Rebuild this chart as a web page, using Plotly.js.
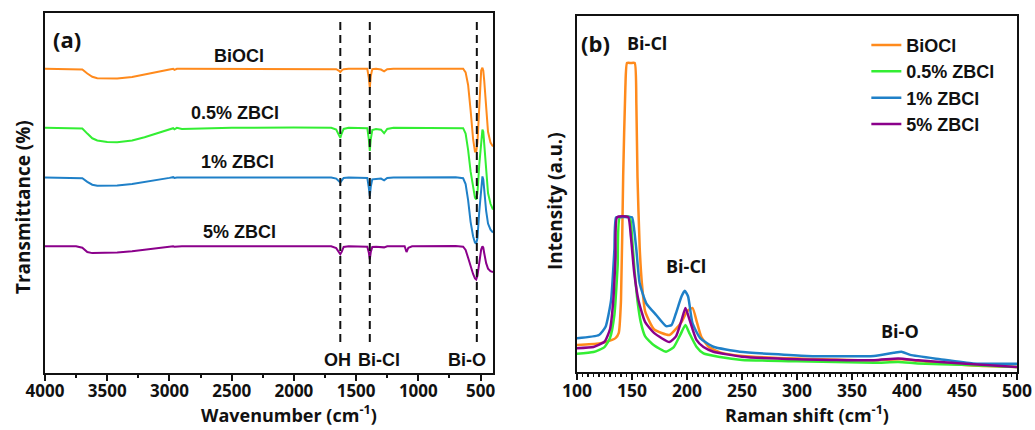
<!DOCTYPE html>
<html>
<head>
<meta charset="utf-8">
<script src="https://cdn.plot.ly/plotly-3.0.1.min.js"></script>
<style>html,body{margin:0;padding:0;background:#fff;}#chart{width:1035px;height:430px;}</style>
</head>
<body>
<div id="chart"></div>
<script>
// ---------- Panel (a): FTIR ----------
const wavenumber = [4000, 3750, 3700, 3660, 3620, 3580, 3500, 3420, 3300, 3200, 3100, 3000, 2970, 2960, 2940, 2900, 2500, 2000, 1700, 1660, 1640, 1627, 1615, 1600, 1560, 1410, 1398, 1390, 1382, 1370, 1340, 1300, 1275, 1250, 1200, 1110, 1095, 1080, 1050, 700, 640, 620, 600, 580, 560, 545, 535, 525, 510, 495, 485, 478, 470, 455, 440, 420, 400];
const ftirBiOCl = [84.5, 84.5, 84.3, 83.2, 82.3, 81.9, 81.8, 81.8, 82.2, 82.8, 83.6, 84.3, 84.5, 84.2, 84.5, 84.5, 84.5, 84.6, 84.5, 84.4, 84.0, 83.6, 84.1, 84.4, 84.5, 84.5, 82.0, 79.2, 82.5, 84.4, 84.5, 84.3, 83.8, 84.4, 84.5, 84.5, 84.5, 84.5, 84.5, 84.6, 84.5, 83.5, 80.0, 73.0, 65.0, 61.5, 61.5, 64.0, 76.0, 84.0, 84.8, 84.0, 81.0, 73.0, 67.0, 64.0, 62.9];
const ftirZB05 = [68.1, 68.1, 67.9, 66.5, 65.2, 64.6, 64.2, 64.1, 64.6, 65.5, 66.6, 67.6, 68.0, 67.7, 68.1, 67.8, 68.1, 68.2, 68.1, 67.6, 66.3, 65.3, 66.6, 67.8, 68.1, 68.0, 65.0, 61.7, 65.0, 67.5, 67.8, 67.6, 66.6, 67.8, 68.1, 68.1, 68.1, 68.1, 68.1, 68.2, 68.0, 66.5, 62.0, 56.0, 51.0, 48.7, 48.2, 50.0, 58.0, 65.5, 67.6, 67.0, 63.5, 56.0, 50.0, 47.0, 45.4];
const ftirZB1 = [54.3, 54.3, 54.1, 53.1, 52.3, 52.0, 52.0, 52.1, 52.5, 53.0, 53.6, 54.2, 54.4, 54.2, 54.3, 54.3, 54.3, 54.4, 54.3, 54.0, 53.3, 52.9, 53.5, 54.2, 54.3, 54.2, 51.5, 49.1, 51.8, 53.8, 53.9, 54.0, 53.5, 54.2, 54.3, 54.3, 54.3, 54.3, 54.3, 54.4, 54.1, 52.5, 48.0, 42.0, 38.0, 36.2, 36.0, 37.5, 45.0, 52.5, 54.6, 53.8, 50.5, 45.0, 41.5, 39.8, 39.0];
const ftirZB5 = [35.2, 35.2, 34.8, 33.6, 33.3, 33.3, 33.4, 33.5, 33.8, 34.2, 34.7, 35.2, 35.2, 35.1, 35.2, 35.2, 35.2, 35.3, 35.2, 34.7, 33.6, 33.0, 33.7, 35.0, 35.2, 35.1, 33.5, 31.6, 33.6, 35.0, 35.1, 35.1, 34.9, 35.2, 35.2, 35.2, 33.6, 34.8, 35.2, 35.3, 35.1, 34.2, 32.0, 29.5, 27.5, 26.3, 26.0, 27.0, 31.0, 34.3, 35.2, 34.8, 33.2, 30.5, 29.0, 28.3, 28.0];
const ftirMarkers = [1627, 1390, 530];
const ftirMarkerLabels = ["OH", "Bi-Cl", "Bi-O"];
const ftirTickVals = [4000, 3500, 3000, 2500, 2000, 1500, 1000, 500];

// ---------- Panel (b): Raman ----------
const ramanBiOClX = [100, 120, 130, 135, 138, 140, 142, 144, 145.5, 149, 152.5, 154, 155, 157, 159, 162, 170, 184, 195, 200, 205, 209, 213, 220, 230, 250, 300, 370, 395, 420, 460, 500];
const ramanBiOClY = [7.6, 8.0, 8.8, 9.5, 11, 20, 55, 80, 86.8, 86.8, 86.8, 75, 55, 35, 25, 17, 12, 10.4, 14, 17, 18, 14, 9.9, 7, 5.5, 4.5, 3.8, 3.3, 3.6, 2.8, 1.8, 1.4];
const ramanZB05X = [100, 115, 125, 130, 134, 137, 139, 148, 150, 152.5, 155, 158, 162, 170, 181, 188, 194, 198.6, 202, 208.6, 215, 230, 250, 300, 370, 392, 410, 450, 500];
const ramanZB05Y = [5.1, 5.6, 7.0, 9.5, 16, 30, 43.5, 43.5, 38, 28, 20, 14, 10, 7.5, 5.7, 7, 10.5, 13.2, 11, 7.1, 5.2, 4.2, 3.4, 3.0, 2.6, 2.8, 2.4, 2.0, 1.4];
const ramanZB1X = [100, 120, 126, 131, 134, 135.5, 140, 145, 150, 152, 154, 157, 163, 172, 181, 186, 190, 195, 198, 201, 205, 212, 224, 248, 309, 370, 388, 395, 403, 430, 460, 500];
const ramanZB1Y = [9.5, 10.4, 12.7, 20.2, 34.3, 43.4, 43.5, 43.5, 43.5, 40, 34.3, 24.9, 19.3, 16, 12.9, 13.2, 16.5, 21.2, 22.8, 21.2, 13.7, 9.5, 7.1, 5.7, 4.5, 4.5, 5.4, 5.7, 4.8, 3.6, 2.4, 2.3];
const ramanZB5X = [100, 115, 125, 130, 133, 135, 136.5, 146.5, 149, 152, 156, 162, 170, 184, 190, 195, 198.6, 202, 208.6, 215, 224, 250, 300, 370, 392, 410, 450, 500];
const ramanZB5Y = [6.7, 7.0, 8.5, 12, 20, 32, 43.5, 43.5, 38, 28, 20, 14, 11, 8.4, 10, 14.5, 18, 15, 9, 7, 5.7, 4.3, 3.6, 3.3, 3.8, 3.3, 2.4, 1.4];
const ramanTickVals = [100, 150, 200, 250, 300, 350, 400, 450, 500];

const seriesNames = ["BiOCl", "0.5% ZBCl", "1% ZBCl", "5% ZBCl"];
const seriesColors = ["#FF8A1C", "#33EE33", "#1F80C8", "#8B008B"];

const FONT = "'Open Sans', 'DejaVu Sans', sans-serif";
const ARIAL = "'Liberation Sans', Arial, sans-serif";

const ftirY = [ftirBiOCl, ftirZB05, ftirZB1, ftirZB5];
const ramanX = [ramanBiOClX, ramanZB05X, ramanZB1X, ramanZB5X];
const ramanY = [ramanBiOClY, ramanZB05Y, ramanZB1Y, ramanZB5Y];

const traces = [];
ftirY.forEach((ys, i) => {
  traces.push({
    x: wavenumber, y: ys, type: 'scatter', mode: 'lines',
    name: seriesNames[i], showlegend: false,
    line: {color: seriesColors[i], width: 2},
    xaxis: 'x', yaxis: 'y', hoverinfo: 'skip'
  });
});
ramanY.forEach((ys, i) => {
  traces.push({
    x: ramanX[i], y: ys, type: 'scatter', mode: 'lines',
    name: seriesNames[i], showlegend: true,
    line: {color: seriesColors[i], width: 2.5, shape: 'spline', smoothing: 0.5},
    xaxis: 'x2', yaxis: 'y2'
  });
});

const bold = (s) => '<b>' + s + '</b>';

const annotations = [
  {text: bold('(a)'), xref: 'x domain', yref: 'y domain', x: 0.049, y: 0.928, size: 22, fam: FONT},
  {text: bold(seriesNames[0]), xref: 'x domain', yref: 'y domain', x: 0.433, y: 0.881, size: 18, fam: ARIAL},
  {text: bold(seriesNames[1]), xref: 'x domain', yref: 'y domain', x: 0.424, y: 0.722, size: 18, fam: ARIAL},
  {text: bold(seriesNames[2]), xref: 'x domain', yref: 'y domain', x: 0.429, y: 0.586, size: 18, fam: ARIAL},
  {text: bold(seriesNames[3]), xref: 'x domain', yref: 'y domain', x: 0.435, y: 0.392, size: 18, fam: ARIAL},
  {text: bold(ftirMarkerLabels[0]), xref: 'x domain', yref: 'y domain', x: 0.652, y: 0.036, size: 18, fam: ARIAL},
  {text: bold(ftirMarkerLabels[1]), xref: 'x domain', yref: 'y domain', x: 0.745, y: 0.036, size: 18, fam: ARIAL},
  {text: bold(ftirMarkerLabels[2]), xref: 'x domain', yref: 'y domain', x: 0.942, y: 0.036, size: 18, fam: ARIAL},
  {text: bold('(b)'), xref: 'x2 domain', yref: 'y2 domain', x: 0.043, y: 0.924, size: 22, fam: FONT},
  {text: bold('Bi-Cl'), xref: 'x2 domain', yref: 'y2 domain', x: 0.159, y: 0.924, size: 18, fam: FONT},
  {text: bold('Bi-Cl'), xref: 'x2 domain', yref: 'y2 domain', x: 0.248, y: 0.298, size: 18, fam: FONT},
  {text: bold('Bi-O'), xref: 'x2 domain', yref: 'y2 domain', x: 0.734, y: 0.115, size: 18, fam: FONT},
  // axis titles
  {text: bold('Wavenumber (cm<sup>-1</sup>)'), xref: 'x domain', yref: 'paper', x: 0.545, y: -0.1556, size: 18, fam: FONT, ya: 'bottom'},
  {text: bold('Raman shift (cm<sup>-1</sup>)'), xref: 'x2 domain', yref: 'paper', x: 0.523, y: -0.1556, size: 18, fam: FONT, ya: 'bottom'},
  {text: bold('Transmittance (%)'), xref: 'paper', yref: 'paper', x: -0.0226, y: 0.461, size: 19, fam: FONT, rot: -90},
  {text: bold('Intensity (a.u.)'), xref: 'paper', yref: 'paper', x: 0.5247, y: 0.478, size: 19, fam: FONT, rot: -90}
].map(a => ({
  text: a.text, xref: a.xref, yref: a.yref, x: a.x, y: a.y,
  xanchor: 'center', yanchor: a.ya || 'middle', showarrow: false,
  textangle: a.rot || 0,
  font: {family: a.fam, size: a.size, color: '#111'}
}));

const shapes = ftirMarkers.map(wn => ({
  type: 'line', xref: 'x', yref: 'y', x0: wn, x1: wn, y0: 8.6, y1: 97.5,
  line: {color: '#111', width: 2, dash: '8px,5px'}
}));

const axisCommon = {
  showline: true, mirror: true, linecolor: '#111', linewidth: 2,
  showgrid: false, zeroline: false
};

const layout = {
  width: 1035, height: 430,
  margin: {l: 45, r: 18, t: 13, b: 57},
  paper_bgcolor: '#fff', plot_bgcolor: '#fff',
  font: {family: FONT, color: '#111'},
  showlegend: true,
  legend: {
    x: 0.845, y: 0.962, xanchor: 'left', yanchor: 'top',
    font: {family: ARIAL, size: 18, color: '#111', weight: 'bold'},
    bgcolor: 'rgba(0,0,0,0)', borderwidth: 0, tracegroupgap: 0
  },
  xaxis: Object.assign({}, axisCommon, {
    domain: [0, 0.4609], range: [4000, 400], anchor: 'y',
    tickmode: 'array', tickvals: ftirTickVals,
    ticks: 'outside', ticklen: 6, tickwidth: 2, tickcolor: '#111',
    ticklabelstandoff: -4,
    minor: {dtick: 250, tick0: 0, ticks: 'outside', ticklen: 3, tickwidth: 2, tickcolor: '#111'},
    tickfont: {family: FONT, size: 17, color: '#111', weight: 'bold'}
  }),
  yaxis: Object.assign({}, axisCommon, {
    domain: [0, 1], range: [0, 100], anchor: 'x',
    showticklabels: false, ticks: ''
  }),
  xaxis2: Object.assign({}, axisCommon, {
    domain: [0.5473, 1], range: [100, 500], anchor: 'y2',
    tickmode: 'array', tickvals: ramanTickVals,
    ticks: 'outside', ticklen: 6, tickwidth: 2, tickcolor: '#111',
    ticklabelstandoff: -4,
    minor: {dtick: 5, tick0: 0, ticks: 'outside', ticklen: 3, tickwidth: 1.5, tickcolor: '#111'},
    tickfont: {family: FONT, size: 17.5, color: '#111', weight: 'bold'}
  }),
  yaxis2: Object.assign({}, axisCommon, {
    domain: [0.0028, 0.9917], range: [0, 100], anchor: 'x2',
    showticklabels: false, ticks: ''
  }),
  annotations: annotations,
  shapes: shapes
};

Plotly.newPlot('chart', traces, layout, {displayModeBar: false, staticPlot: true});
</script>
</body>
</html>
